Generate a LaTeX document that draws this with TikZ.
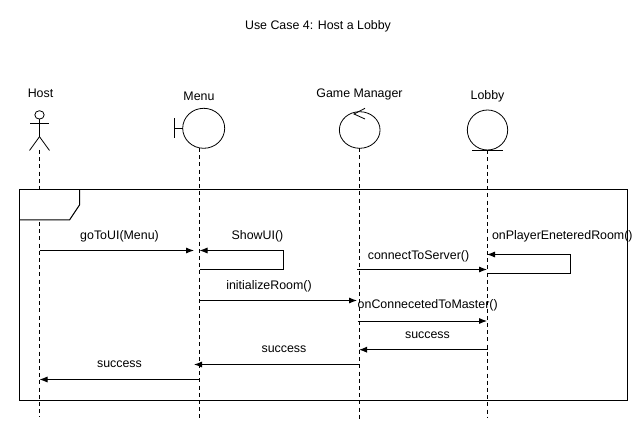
\documentclass[tikz,border=0pt]{standalone}
\usepackage{fontspec}
\setmainfont{Liberation Sans}
\usetikzlibrary{arrows.meta,shapes.geometric}
\begin{document}
\begin{tikzpicture}[x=0.75pt, y=-0.75pt, line cap=butt, line join=miter,
    every node/.style={font=\fontsize{9.3}{11}\selectfont},
    label/.style={inner sep=0pt, outer sep=0pt},
    head/.style={ellipse, draw, line width=0.6pt, inner sep=0pt, outer sep=0pt},
    life/.style={line width=0.7pt, dash pattern=on 3pt off 2.4pt},
    msg/.style={line width=0.75pt, -{Latex[length=6pt,width=4.6pt]}},
    frame/.style={line width=0.75pt}]
  \useasboundingbox (0,0) rectangle (643,431);
  \node[label] (title) at (318,26.5) {Use Case 4: Host a Lobby};
  % participants
  \node[label] (hostL) at (40.5,93.5) {Host};
  \node[label] (menuL) at (199,96) {Menu};
  \node[label] (gameL) at (359.5,94) {Game Manager};
  \node[label] (lobbyL) at (487.5,96) {Lobby};
  \node[head, minimum width=9.4*0.75pt, minimum height=8.4*0.75pt] (hostH) at (39.5,114.9) {};
  \coordinate (hostN) at (39.5,136.7);
  \coordinate (hostA) at (30,123.3);
  \coordinate (hostB) at (49,123.3);
  \coordinate (hostC) at (29.5,150.5);
  \coordinate (hostD) at (49.5,150.5);
  \coordinate (hostF) at (39.5,150);
  \draw[line width=0.6pt] (hostH) -- (hostN) -- (hostC);
  \draw[line width=0.6pt] (hostN) -- (hostD);
  \draw[line width=0.6pt] (hostA) -- (hostB);
  \node[head, minimum width=42*0.75pt, minimum height=40*0.75pt] (menuH) at (203.7,128.3) {};
  \coordinate (menuS) at (174.5,128.3);
  \coordinate (menuT) at (174.5,118.3);
  \coordinate (menuU) at (174.5,138.3);
  \coordinate (menuF) at (199.5,148);
  \draw[line width=0.6pt] (menuT) -- (menuU);
  \draw[line width=0.6pt] (menuS) -- (menuH);
  \node[head, minimum width=40.7*0.75pt, minimum height=36.6*0.75pt] (gameH) at (359.7,130) {};
  \coordinate (gameV) at (354,114);
  \coordinate (gameT) at (365,108.3);
  \coordinate (gameU) at (365,119);
  \coordinate (gameF) at (359.5,148.3);
  \draw[line width=0.6pt] (gameT) -- (gameV) -- (gameU);
  \node[head, minimum width=40.4*0.75pt, minimum height=40*0.75pt] (lobbyH) at (487.5,130) {};
  \coordinate (lobbyT) at (472.3,150.3);
  \coordinate (lobbyU) at (502.7,150.3);
  \coordinate (lobbyF) at (487.5,150.3);
  \draw[line width=0.75pt] (lobbyT) -- (lobbyU);
  % lifelines
  \coordinate (hostE) at (39.5,417);
  \coordinate (menuE) at (199.5,420);
  \coordinate (gameE) at (359.5,420);
  \coordinate (lobbyE) at (487.5,417);
  \draw[life] (hostF) -- (hostE);
  \draw[life] (menuF) -- (menuE);
  \draw[life] (gameF) -- (gameE);
  \draw[life] (lobbyF) -- (lobbyE);
  % frame
  \coordinate (frA) at (19.5,190);
  \coordinate (frB) at (627.3,190);
  \coordinate (frC) at (627.3,400);
  \coordinate (frD) at (19.5,400);
  \coordinate (tabA) at (79.5,190);
  \coordinate (tabB) at (79.5,205);
  \coordinate (tabC) at (69.5,220);
  \coordinate (tabD) at (19.5,220);
  \fill[white] (frA) -- (tabA) -- (tabB) -- (tabC) -- (tabD) -- cycle;
  \draw[frame] (frA) -- (frB) -- (frC) -- (frD) -- cycle;
  \draw[frame] (tabA) -- (tabB) -- (tabC) -- (tabD);
  % messages
  \coordinate (m1a) at (39.5,250.5);
  \coordinate (m1b) at (194,250.5);
  \coordinate (m2a) at (199.5,270);
  \coordinate (m2b) at (283.5,270);
  \coordinate (m2c) at (283.5,250.5);
  \coordinate (m2d) at (199.5,250.5);
  \coordinate (m3a) at (199.5,300.5);
  \coordinate (m3b) at (357,300.5);
  \coordinate (m4a) at (357,269.5);
  \coordinate (m4b) at (487,269.5);
  \coordinate (m5a) at (487.5,274);
  \coordinate (m5b) at (570.5,274);
  \coordinate (m5c) at (570.5,254.5);
  \coordinate (m5d) at (487,254.5);
  \coordinate (m6a) at (357.5,321);
  \coordinate (m6b) at (487,321);
  \coordinate (m7a) at (487.5,349.7);
  \coordinate (m7b) at (359,349.7);
  \coordinate (m8a) at (359.5,364.5);
  \coordinate (m8b) at (194,364.5);
  \coordinate (m9a) at (199.5,379.5);
  \coordinate (m9b) at (39.5,379.5);
  \draw[msg] (m1a) -- (m1b);
  \draw[msg] (m2a) -- (m2b) -- (m2c) -- (m2d);
  \draw[msg] (m3a) -- (m3b);
  \draw[msg] (m4a) -- (m4b);
  \draw[msg] (m5a) -- (m5b) -- (m5c) -- (m5d);
  \draw[msg] (m6a) -- (m6b);
  \draw[msg] (m7a) -- (m7b);
  \draw[msg] (m8a) -- (m8b);
  \draw[msg] (m9a) -- (m9b);
  \node[label] (m1L) at (119.5,236.5) {goToUI(Menu)};
  \node[label] (m2L) at (257.5,236.5) {ShowUI()};
  \node[label] (m3L) at (269,286.5) {initializeRoom()};
  \node[label] (m4L) at (418.5,256.5) {connectToServer()};
  \node[label] (m5L) at (562.3,236.5) {onPlayerEneteredRoom()};
  \node[label] (m6L) at (427.7,305.5) {onConnecetedToMaster()};
  \node[label] (m7L) at (427.5,335.5) {success};
  \node[label] (m8L) at (284,349.5) {success};
  \node[label] (m9L) at (119.5,364.5) {success};
\end{tikzpicture}
\end{document}
